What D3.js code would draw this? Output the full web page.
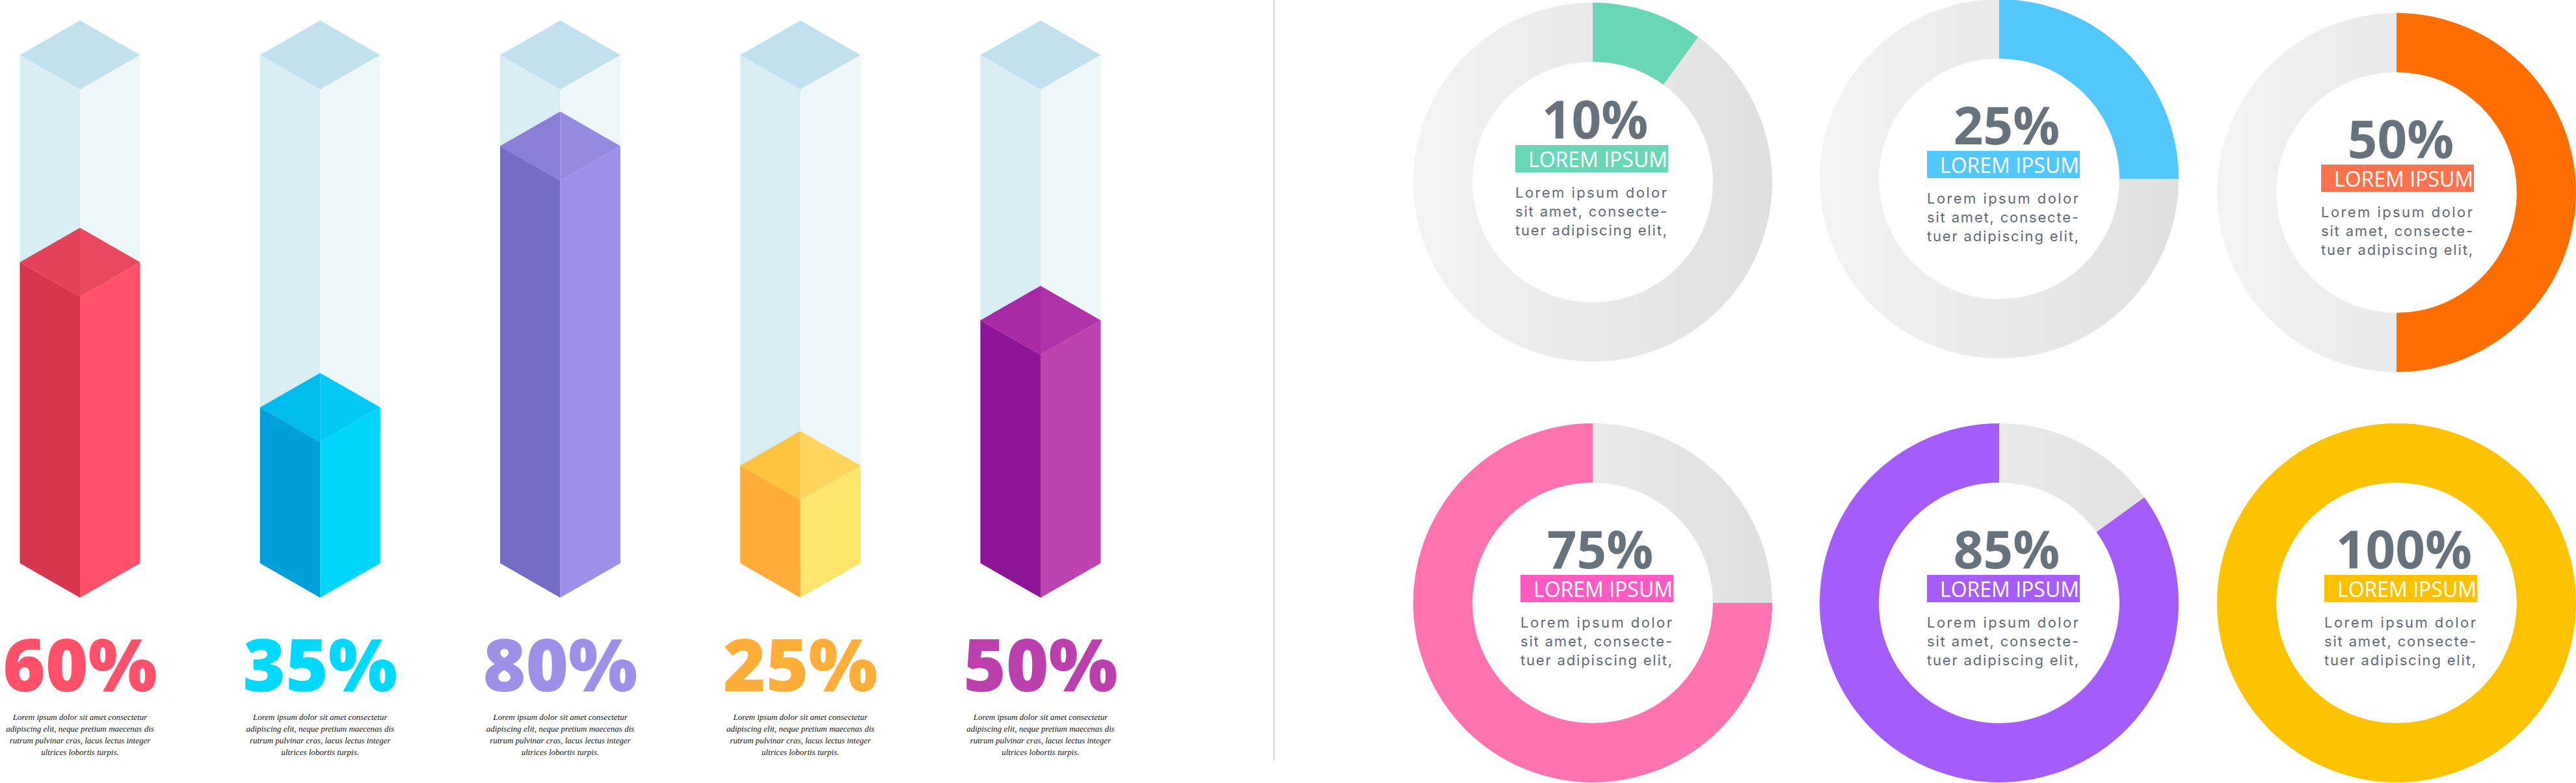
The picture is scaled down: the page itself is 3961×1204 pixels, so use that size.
<!DOCTYPE html>
<html>
<head>
<meta charset="utf-8">
<script src="https://cdn.jsdelivr.net/npm/d3@7"></script>
<style>
  html, body { margin: 0; padding: 0; background: #ffffff; overflow: hidden; }
  svg { display: block; }
</style>
</head>
<body>
<script>
// ---------------- DATA ----------------
const barCategories = ["A", "B", "C", "D", "E"];
const barValues = [60, 35, 80, 25, 50];
const barLabels = ["60%", "35%", "80%", "25%", "50%"];
const barNoteLines = [
  "Lorem ipsum dolor sit amet consectetur",
  "adipiscing elit, neque pretium maecenas dis",
  "rutrum pulvinar cras, lacus lectus integer",
  "ultrices lobortis turpis."
];

const donutValues = [10, 25, 50, 75, 85, 100];
const donutLabels = ["10%", "25%", "50%", "75%", "85%", "100%"];
const donutTitle = "LOREM IPSUM";
const donutBodyLines = ["Lorem ipsum dolor", "sit amet, consecte-", "tuer adipiscing elit,"];

// ---------------- STYLE ----------------
const barColors = [
  { left: "#d8364f", right: "#ff5169", topL: "#e4425b", topR: "#ea4760", label: "#ff5169" },
  { left: "#00a0dd", right: "#00d6fc", topL: "#00bbee", topR: "#00c9f6", label: "#00d8fd" },
  { left: "#746cc5", right: "#9f8fe8", topL: "#8a7fd7", topR: "#948ae0", label: "#9e8fe8" },
  { left: "#ffad38", right: "#ffe46d", topL: "#ffc43f", topR: "#ffd55e", label: "#ffae3a" },
  { left: "#8e1597", right: "#bb42af", topL: "#a928a3", topR: "#b232a9", label: "#bb40ae" }
];
const glass = { left: "#d9edf4", right: "#eef7fa", top: "#c2e1ef" };
const donutArcColors = ["#69d7b7", "#52c8fd", "#ff6e00", "#ff74b0", "#a45cfb", "#fdc300"];
const donutBannerColors = ["#69d7b7", "#52c8fd", "#ff724d", "#ff5cc3", "#a55efc", "#fcc200"];

// layout of the donuts: centre, text offset, which end the filled arc is anchored to
const donutLayout = [
  { cx: 2449, cy: 280, dx: -8, dy: -14, anchor: "start" },
  { cx: 3074, cy: 275, dx: 0,  dy: 0,   anchor: "start" },
  { cx: 3685, cy: 296, dx: -5, dy: 0,   anchor: "start" },
  { cx: 2449, cy: 927, dx: 0,  dy: 0,   anchor: "end" },
  { cx: 3074, cy: 927, dx: 0,  dy: 0,   anchor: "end" },
  { cx: 3685, cy: 927, dx: 0,  dy: 0,   anchor: "end" }
];

const W = 3961, H = 1204;
const svg = d3.select("body").append("svg").attr("width", W).attr("height", H);

const defs = svg.append("defs");
const grad = defs.append("linearGradient").attr("id", "ringGrad")
  .attr("x1", 0).attr("y1", 0).attr("x2", 1).attr("y2", 0);
grad.append("stop").attr("offset", 0).attr("stop-color", "#f4f4f4");
grad.append("stop").attr("offset", 1).attr("stop-color", "#e0e0e0");

// ---------------- ISOMETRIC BARS ----------------
const xBar = d3.scalePoint().domain(barCategories).range([123, 1600]);
const yFill = d3.scaleLinear().domain([0, 100]).range([939, 46]);
const hw = 92.5, dh = 53;
const glassTop = 84.5, glassBottom = 866;
const poly = d3.line();

const bars = svg.append("g").attr("class", "bars");
barCategories.forEach((cat, i) => {
  const cx = xBar(cat);
  const c = barColors[i];
  const g = bars.append("g");
  // glass container
  g.append("path").attr("fill", glass.left)
    .attr("d", poly([[cx - hw, glassTop], [cx, glassTop + dh], [cx, glassBottom + dh], [cx - hw, glassBottom]]) + "Z");
  g.append("path").attr("fill", glass.right)
    .attr("d", poly([[cx, glassTop + dh], [cx + hw, glassTop], [cx + hw, glassBottom], [cx, glassBottom + dh]]) + "Z");
  g.append("path").attr("fill", glass.top)
    .attr("d", poly([[cx, glassTop - dh], [cx + hw, glassTop], [cx, glassTop + dh], [cx - hw, glassTop]]) + "Z");
  // filled block
  const fy = yFill(barValues[i]);
  g.append("path").attr("fill", c.left)
    .attr("d", poly([[cx - hw, fy], [cx, fy + dh], [cx, glassBottom + dh], [cx - hw, glassBottom]]) + "Z");
  g.append("path").attr("fill", c.right)
    .attr("d", poly([[cx, fy + dh], [cx + hw, fy], [cx + hw, glassBottom], [cx, glassBottom + dh]]) + "Z");
  g.append("path").attr("fill", c.topL)
    .attr("d", poly([[cx, fy - dh], [cx, fy + dh], [cx - hw, fy]]) + "Z");
  g.append("path").attr("fill", c.topR)
    .attr("d", poly([[cx, fy - dh], [cx + hw, fy], [cx, fy + dh]]) + "Z");

  g.append("text")
    .attr("x", cx).attr("y", 1063)
    .attr("text-anchor", "middle")
    .attr("font-family", "'Open Sans', 'Noto Sans', sans-serif")
    .attr("font-weight", 800)
    .attr("font-size", 112)
    .attr("fill", c.label)
    .text(barLabels[i]);

  const note = g.append("text")
    .attr("text-anchor", "middle")
    .attr("font-family", "'Liberation Serif', 'DejaVu Serif', serif")
    .attr("font-style", "italic")
    .attr("font-size", 13)
    .attr("fill", "#111111");
  barNoteLines.forEach((ln, k) => {
    note.append("tspan").attr("x", cx).attr("y", 1107 + k * 18).text(ln);
  });
});

// ---------------- DIVIDER ----------------
svg.append("line")
  .attr("x1", 1959).attr("x2", 1959)
  .attr("y1", 0).attr("y2", 1170)
  .attr("stroke", "#c8c8c8").attr("stroke-width", 1.5);

// ---------------- DONUTS ----------------
const rOuter = 276, rInner = 185;
const arc = d3.arc().innerRadius(rInner).outerRadius(rOuter);
const angle = d3.scaleLinear().domain([0, 100]).range([0, 2 * Math.PI]);
const bannerW = 235, bannerH = 42;

const donuts = svg.append("g").attr("class", "donuts");
donutValues.forEach((v, i) => {
  const L = donutLayout[i];
  const g = donuts.append("g").attr("transform", `translate(${L.cx},${L.cy})`);
  g.append("path").attr("fill", "url(#ringGrad)")
    .attr("d", arc({ startAngle: 0, endAngle: 2 * Math.PI }));
  const a = angle(v);
  const seg = L.anchor === "start"
    ? { startAngle: 0, endAngle: a }
    : { startAngle: 2 * Math.PI - a, endAngle: 2 * Math.PI };
  g.append("path").attr("fill", donutArcColors[i]).attr("d", arc(seg));

  const bx = -111 + L.dx, by = -43 + L.dy;
  g.append("text")
    .attr("x", bx + bannerW / 2 + 5).attr("y", by - 10)
    .attr("text-anchor", "middle")
    .attr("font-family", "'Open Sans', 'Noto Sans', sans-serif")
    .attr("font-weight", 700)
    .attr("font-size", 80)
    .attr("fill", "#67727c")
    .text(donutLabels[i]);
  g.append("rect")
    .attr("x", bx).attr("y", by)
    .attr("width", bannerW).attr("height", bannerH)
    .attr("fill", donutBannerColors[i]);
  g.append("text")
    .attr("x", bx + 20).attr("y", by + 34)
    .attr("font-family", "'Open Sans', 'Noto Sans', sans-serif")
    .attr("font-weight", 400)
    .attr("font-size", 33)
    .attr("textLength", 214)
    .attr("lengthAdjust", "spacingAndGlyphs")
    .attr("fill", "#ffffff")
    .text(donutTitle);
  donutBodyLines.forEach((ln, k) => {
    g.append("text")
      .attr("x", bx).attr("y", by + 81 + k * 29)
      .attr("font-family", "Inter, 'Open Sans', sans-serif")
      .attr("font-weight", 400)
      .attr("font-size", 22)
      .attr("textLength", 233)
      .attr("lengthAdjust", "spacing")
      .attr("fill", "#5e6976")
      .text(ln);
  });
});
</script>
</body>
</html>
